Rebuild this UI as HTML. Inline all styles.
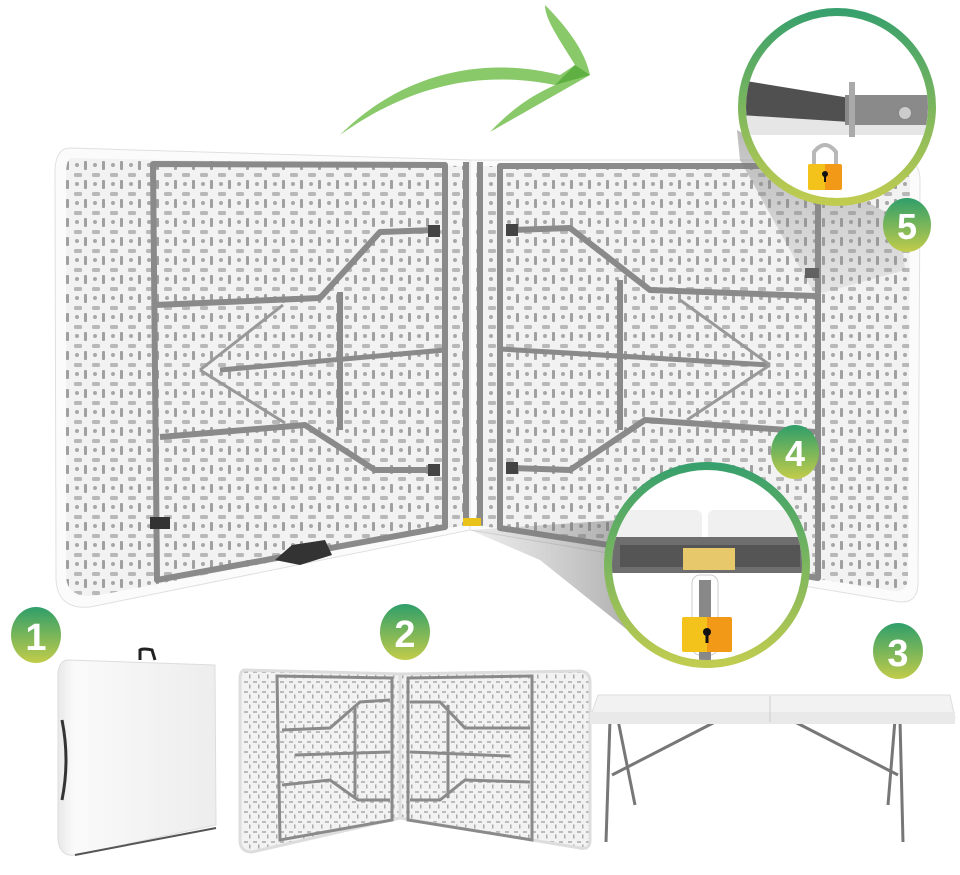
<!DOCTYPE html>
<html><head><meta charset="utf-8"><style>
html,body{margin:0;padding:0;background:#fff;width:960px;height:875px;overflow:hidden}
svg{display:block}
text{font-family:"Liberation Sans",Arial,sans-serif;font-weight:bold;fill:#fff}
</style></head><body>
<svg width="960" height="875" viewBox="0 0 960 875" xmlns="http://www.w3.org/2000/svg">
<defs>
<pattern id="tex" width="18" height="19" patternUnits="userSpaceOnUse">
<rect width="18" height="19" fill="#f2f2f2"/>
<rect x="2" y="2" width="8" height="4" rx="1.5" fill="#b8b8b8"/>
<circle cx="5" cy="13" r="2" fill="#a8a8a8"/>
<rect x="12" y="9" width="3" height="9" rx="1" fill="#a0a0a0"/>
</pattern>
<pattern id="tex2" width="9" height="10" patternUnits="userSpaceOnUse">
<rect width="9" height="10" fill="#f2f2f2"/>
<rect x="1" y="1" width="4" height="2" fill="#bbb"/>
<rect x="6" y="4.5" width="1.5" height="4" fill="#aaa"/>
</pattern>
<linearGradient id="badge" x1="0" y1="0" x2="0" y2="1">
<stop offset="0" stop-color="#2f9e6a"/><stop offset="1" stop-color="#c2cc4a"/></linearGradient>
<linearGradient id="ring" x1="0" y1="0" x2="0" y2="1">
<stop offset="0" stop-color="#38a06c"/><stop offset="1" stop-color="#c0cc50"/></linearGradient>
<linearGradient id="lock" x1="0" y1="0" x2="1" y2="0">
<stop offset="0.5" stop-color="#f3c21b"/><stop offset="0.5" stop-color="#f29a18"/></linearGradient>
<linearGradient id="shade" x1="0" y1="0" x2="1" y2="0">
<stop offset="0" stop-color="#888" stop-opacity="0.15"/><stop offset="1" stop-color="#666" stop-opacity="0.55"/></linearGradient>
<linearGradient id="shade2" x1="0" y1="0" x2="0" y2="1">
<stop offset="0" stop-color="#777" stop-opacity="0.5"/><stop offset="1" stop-color="#999" stop-opacity="0.15"/></linearGradient>
<linearGradient id="fold" x1="0" y1="0" x2="1" y2="0">
<stop offset="0" stop-color="#e8e8e8"/><stop offset="0.1" stop-color="#fafafa"/><stop offset="1" stop-color="#ededed"/></linearGradient>
</defs>

<!-- green arrow -->
<path d="M340,135 C400,75 480,55 560,75 L575,65 C560,40 545,20 545,5 C565,25 585,50 590,75 L490,132 C520,100 545,90 555,85 C480,70 410,85 340,135 Z" fill="#7cc35a" opacity="0.9"/>
<path d="M555,85 L575,65 L590,75 Z" fill="#5fb043"/>

<!-- big table left panel -->
<path d="M70,148 L470,160 L470,530 L90,607 Q58,610 56,580 L55,170 Q56,148 70,148 Z" fill="#fbfbfb" stroke="#e0e0e0"/>
<path d="M72,158 L465,166 L465,525 L95,596 Q66,598 66,575 L66,175 Q66,158 72,158 Z" fill="url(#tex)"/>
<!-- right panel -->
<path d="M470,160 L905,160 Q920,162 920,180 L918,585 Q917,603 900,602 L470,530 Z" fill="#fbfbfb" stroke="#e0e0e0"/>
<path d="M476,166 L900,168 Q910,170 910,182 L908,580 Q906,592 895,591 L476,525 Z" fill="url(#tex)"/>

<!-- frames -->
<g fill="none" stroke="#8a8a8a" stroke-width="6" stroke-linejoin="round">
<path d="M153,164 L445,165 L445,527 L157,580 Z"/>
<path d="M500,166 L818,166 L818,578 L500,528 Z"/>
<line x1="466" y1="162" x2="466" y2="525"/>
<line x1="480" y1="162" x2="480" y2="525"/>
<!-- left legs -->
<path d="M155,305 L320,298 L380,232 L435,230"/>
<path d="M160,437 L305,425 L375,470 L435,470"/>
<line x1="340" y1="292" x2="340" y2="430"/>
<line x1="220" y1="370" x2="445" y2="350" stroke-width="5"/>
<!-- right legs -->
<path d="M512,230 L570,228 L650,290 L815,296"/>
<path d="M512,468 L570,470 L645,420 L815,432"/>
<line x1="620" y1="280" x2="620" y2="430"/>
<line x1="500" y1="349" x2="770" y2="365" stroke-width="5"/>
</g>
<g stroke="#999" stroke-width="3">
<line x1="200" y1="370" x2="283" y2="305"/><line x1="200" y1="370" x2="285" y2="423"/>
<line x1="770" y1="365" x2="680" y2="300"/><line x1="770" y1="365" x2="687" y2="420"/>
</g>
<rect x="428" y="225" width="12" height="12" fill="#444"/><rect x="428" y="464" width="12" height="12" fill="#444"/>
<rect x="506" y="224" width="12" height="12" fill="#444"/><rect x="506" y="462" width="12" height="12" fill="#444"/>
<rect x="150" y="517" width="20" height="12" fill="#333"/>
<path d="M275,560 L292,545 L325,540 L332,555 L300,565 Z" fill="#333"/>
<rect x="463" y="518" width="18" height="8" fill="#e9c21a"/>
<rect x="805" y="268" width="14" height="10" fill="#555"/>

<!-- shading cones -->
<path d="M740,160 L737,130 L900,220 L905,270 L815,295 Z" fill="url(#shade2)"/>
<path d="M470,530 L620,520 L640,640 L540,560 Z" fill="url(#shade)"/>

<!-- zoom circle 5 -->
<circle cx="837" cy="107" r="95" fill="#fff" stroke="url(#ring)" stroke-width="8"/>
<clipPath id="c5"><circle cx="837" cy="107" r="91"/></clipPath>
<g clip-path="url(#c5)">
<rect x="740" y="115" width="200" height="20" fill="#e6e6e6"/>
<path d="M740,80 L850,98 L850,122 L740,115 Z" fill="#505050"/>
<rect x="845" y="95" width="85" height="30" fill="#8a8a8a"/>
<rect x="849" y="82" width="6" height="55" fill="#aaa"/>
<circle cx="905" cy="113" r="7" fill="#ccc" stroke="#888" stroke-width="2"/>
</g>
<path d="M814,165 L814,152 Q825,138 836,152 L836,165" fill="none" stroke="#b8b8b8" stroke-width="4"/>
<rect x="808" y="164" width="34" height="26" rx="2" fill="url(#lock)"/>
<circle cx="825" cy="174" r="3" fill="#111"/><rect x="824" y="175" width="2" height="7" fill="#111"/>

<!-- zoom circle 4 -->
<circle cx="707" cy="565" r="99" fill="#fff" stroke="url(#ring)" stroke-width="8"/>
<clipPath id="c4"><circle cx="707" cy="565" r="95"/></clipPath>
<g clip-path="url(#c4)">
<rect x="610" y="510" width="92" height="30" rx="6" fill="#f0f0f0"/>
<rect x="708" y="510" width="100" height="30" rx="6" fill="#f0f0f0"/>
<rect x="610" y="537" width="200" height="36" fill="#6e6e6e"/>
<rect x="620" y="545" width="180" height="22" fill="#555"/>
<rect x="683" y="548" width="52" height="22" fill="#e7c86a"/>
<rect x="692" y="575" width="26" height="80" rx="8" fill="#fff" stroke="#ccc"/>
<rect x="699" y="580" width="12" height="80" fill="#888"/>
</g>
<rect x="682" y="617" width="50" height="35" rx="2" fill="url(#lock)"/>
<circle cx="707" cy="632" r="4" fill="#111"/><rect x="705.5" y="633" width="3" height="10" fill="#111"/>

<!-- badges -->
<g>
<ellipse cx="36" cy="635" rx="25" ry="28" fill="url(#badge)"/><text x="36" y="650" font-size="38" text-anchor="middle">1</text>
<ellipse cx="405" cy="632" rx="25" ry="28" fill="url(#badge)"/><text x="405" y="647" font-size="38" text-anchor="middle">2</text>
<ellipse cx="898" cy="651" rx="25" ry="28" fill="url(#badge)"/><text x="898" y="666" font-size="38" text-anchor="middle">3</text>
<ellipse cx="795" cy="452" rx="24" ry="27" fill="url(#badge)"/><text x="795" y="466" font-size="36" text-anchor="middle">4</text>
<ellipse cx="907" cy="225" rx="24" ry="27" fill="url(#badge)"/><text x="907" y="239" font-size="36" text-anchor="middle">5</text>
</g>

<!-- folded case -->
<path d="M140,660 L140,650 Q143,648 152,650 L155,660" fill="none" stroke="#222" stroke-width="3"/>
<path d="M68,660 L215,665 L216,825 L75,855 Q60,857 58,840 L58,672 Q60,660 68,660 Z" fill="url(#fold)" stroke="#ddd"/>
<path d="M75,855 L216,828" stroke="#555" stroke-width="2"/>
<path d="M62,720 Q70,760 62,800" stroke="#333" stroke-width="3" fill="none"/>

<!-- small table underside -->
<path d="M245,670 L400,674 L400,818 L252,852 Q240,852 240,840 L240,680 Q240,670 245,670 Z" fill="url(#tex2)" stroke="#ddd" stroke-width="3"/>
<path d="M400,674 L580,671 Q590,672 590,682 L590,842 Q589,850 580,848 L400,818 Z" fill="url(#tex2)" stroke="#ddd" stroke-width="3"/>
<g fill="none" stroke="#8a8a8a" stroke-width="3">
<path d="M277,676 L392,678 L392,820 L280,840 Z"/>
<path d="M408,678 L532,676 L532,840 L408,820 Z"/>
<path d="M282,730 L330,728 L360,702 L390,700"/>
<path d="M282,785 L330,780 L358,800 L390,800"/>
<path d="M410,702 L440,702 L465,728 L530,728"/>
<path d="M410,800 L440,800 L465,780 L530,782"/>
<line x1="295" y1="755" x2="390" y2="752"/><line x1="410" y1="752" x2="510" y2="756"/>
<line x1="355" y1="705" x2="355" y2="798"/><line x1="448" y1="705" x2="448" y2="798"/>
</g>

<!-- table with legs -->
<g stroke="#777" stroke-width="3" fill="none">
<line x1="610" y1="720" x2="606" y2="842"/><line x1="618" y1="720" x2="635" y2="805"/>
<line x1="900" y1="720" x2="903" y2="842"/><line x1="895" y1="720" x2="888" y2="805"/>
<line x1="612" y1="775" x2="715" y2="722"/><line x1="898" y1="775" x2="795" y2="722"/>
</g>
<path d="M598,695 L950,695 L955,718 L590,718 Z" fill="#f2f2f2" stroke="#ddd"/>
<rect x="590" y="712" width="365" height="12" fill="#e9e9e9"/>
<line x1="770" y1="696" x2="770" y2="722" stroke="#ccc"/>
</svg>
</body></html>
